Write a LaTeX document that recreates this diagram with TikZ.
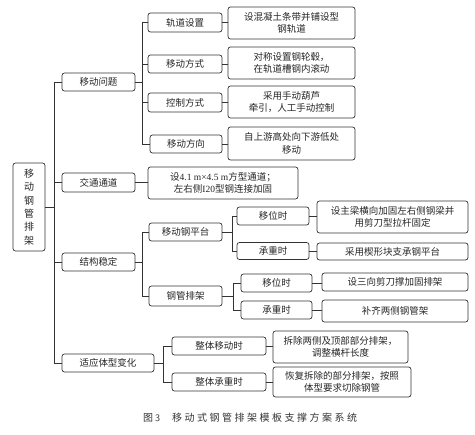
\documentclass[tikz,border=0pt]{standalone}
\usepackage{fontspec}
\setmainfont{Liberation Serif}
\newfontfamily\cjk{Noto Sans CJK SC}
\newfontfamily\cjkcap[LetterSpace=25]{Noto Sans CJK SC}
\begin{document}
\begin{tikzpicture}[x=1pt,y=-1pt,
  bx/.style={draw=black!80, rounded corners=2.5pt, line width=0.7pt, inner sep=0pt,
    align=center, font=\cjk\fontsize{9.5}{12.5}\selectfont, text=black!85},
  ln/.style={draw=black!80, line width=0.7pt}]
\useasboundingbox (0,0) rectangle (475,435);
% root
\node[bx, minimum width=32, minimum height=88, font=\cjk\fontsize{10}{13.4}\selectfont] (root) at (29,207) {移\\动\\钢\\管\\排\\架};
% level 1
\node[bx, minimum width=73, minimum height=18] (m1) at (98.5,82) {移动问题};
\node[bx, minimum width=73, minimum height=19] (m2) at (98.5,182.5) {交通通道};
\node[bx, minimum width=73, minimum height=18] (m3) at (98.5,262) {结构稳定};
\node[bx, minimum width=92, minimum height=18] (m4) at (108,363) {适应体型变化};
% under m1
\node[bx, minimum width=74, minimum height=19] (a1) at (185,22.5) {轨道设置};
\node[bx, minimum width=74, minimum height=18] (a2) at (185,64) {移动方式};
\node[bx, minimum width=74, minimum height=19] (a3) at (185,102.5) {控制方式};
\node[bx, minimum width=72, minimum height=18] (a4) at (186,144) {移动方向};
\node[bx, minimum width=127, minimum height=32] (d1) at (291.5,23) {设混凝土条带并铺设型\\钢轨道};
\node[bx, minimum width=127, minimum height=32] (d2) at (291.5,63) {对称设置钢轮毂，\\在轨道槽钢内滚动};
\node[bx, minimum width=127, minimum height=32] (d3) at (291.5,102) {采用手动葫芦\\牵引，人工手动控制};
\node[bx, minimum width=127, minimum height=33] (d4) at (291.5,143.5) {自上游高处向下游低处\\移动};
% under m2
\node[bx, minimum width=150, minimum height=32] (e1) at (223,183) {设{\rmfamily 4.1 m×4.5 m}方型通道；\\左右侧{\rmfamily I20}型钢连接加固};
% under m3
\node[bx, minimum width=73, minimum height=18] (b1) at (185.5,232) {移动钢平台};
\node[bx, minimum width=73, minimum height=20] (b2) at (185.5,296) {钢管排架};
\node[bx, minimum width=72, minimum height=18] (c1) at (273,216) {移位时};
\node[bx, minimum width=72, minimum height=17] (c2) at (273,251) {承重时};
\node[bx, minimum width=151, minimum height=32] (f1) at (392.5,217) {设主梁横向加固左右侧钢梁并\\用剪刀型拉杆固定};
\node[bx, minimum width=151, minimum height=17] (f2) at (392.5,251.5) {采用楔形块支承钢平台};
\node[bx, minimum width=71, minimum height=18] (c3) at (276.5,283) {移位时};
\node[bx, minimum width=71, minimum height=18] (c4) at (276.5,310) {承重时};
\node[bx, minimum width=146, minimum height=18] (f3) at (395,282) {设三向剪刀撑加固排架};
\node[bx, minimum width=146, minimum height=22] (f4) at (395,311) {补齐两侧钢管架};
% under m4
\node[bx, minimum width=94, minimum height=18] (g1) at (219,346) {整体移动时};
\node[bx, minimum width=94, minimum height=18] (g2) at (219,382) {整体承重时};
\node[bx, minimum width=135, minimum height=32] (h1) at (340.5,347) {拆除两侧及顶部部分排架，\\调整横杆长度};
\node[bx, minimum width=138, minimum height=30] (h2) at (342,382) {恢复拆除的部分排架，按照\\体型要求切除钢管};
% connectors
\foreach \c in {m1,m2,m3,m4} \draw[ln] (root.east) -- ++(9,0) |- (\c.west);
\foreach \c in {a1,a2,a3,a4} \draw[ln] (m1.east) -- ++(7,0) |- (\c.west);
\draw[ln] (a1.east) -- (a1.east -| d1.west);
\draw[ln] (a2.east) -- (a2.east -| d2.west);
\draw[ln] (a3.east) -- (a3.east -| d3.west);
\draw[ln] (a4.east) -- (a4.east -| d4.west);
\draw[ln] (m2.east) -- (m2.east -| e1.west);
\foreach \c in {b1,b2} \draw[ln] (m3.east) -- ++(7,0) |- (\c.west);
\foreach \c in {c1,c2} \draw[ln] (b1.east) -- ++(10,0) |- (\c.west);
\foreach \c in {c3,c4} \draw[ln] (b2.east) -- ++(11,0) |- (\c.west);
\draw[ln] (c1.east) -- (c1.east -| f1.west);
\draw[ln] (c2.east) -- (c2.east -| f2.west);
\draw[ln] (c3.east) -- (c3.east -| f3.west);
\draw[ln] (c4.east) -- (c4.east -| f4.west);
\foreach \c in {g1,g2} \draw[ln] (m4.east) -- ++(9,0) |- (\c.west);
\draw[ln] (g1.east) -- (g1.east -| h1.west);
\draw[ln] (g2.east) -- (g2.east -| h2.west);
% caption
\node[inner sep=0pt, anchor=west, text=black!80] (cap) at (143,418) {\cjk\fontsize{10}{12}\selectfont 图\hspace{2pt}{\sffamily 3}\hspace{12pt}\cjkcap 移动式钢管排架模板支撑方案系统};
\end{tikzpicture}
\end{document}
